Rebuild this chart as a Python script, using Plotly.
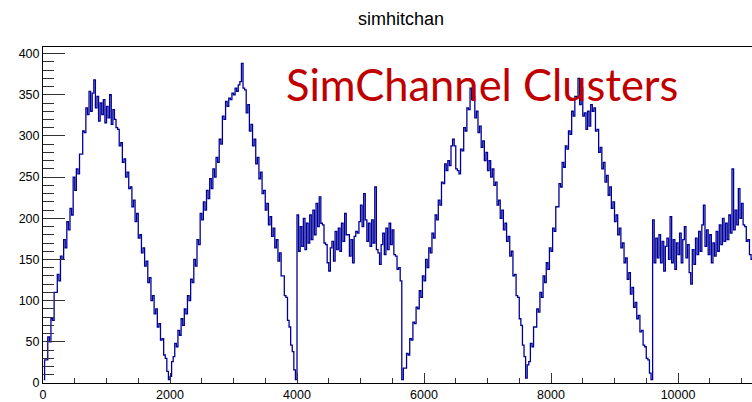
import numpy as np
import plotly.graph_objects as go

# Channel binning of the simhitchan histogram
bin_width = 25

# Counts per bin, grouped by detector region (each list starts on a bin edge)
ramp_a = [4, 28, 28, 56, 50, 78, 76, 110, 110, 132,
          124, 154, 150, 174, 164, 196, 186, 212, 204, 250,
          234, 260, 254, 278, 278, 306, 304, 334, 326, 354,
          330, 352, 368, 334, 348, 318, 340, 326, 344, 316,
          336, 322, 350, 314, 332, 320, 310, 308, 288, 292,
          268, 272, 250, 256, 236, 238, 214, 222, 196, 206,
          176, 180, 158, 164, 142, 148, 122, 128, 100, 106,
          84, 90, 68, 72, 52, 54, 34, 30, 14, 4]
ramp_b = [8, 26, 32, 48, 44, 64, 58, 78, 70, 90,
          84, 106, 100, 126, 122, 150, 142, 174, 168, 206,
          198, 220, 210, 234, 224, 248, 236, 260, 250, 274,
          268, 296, 290, 324, 320, 342, 336, 346, 344, 352,
          350, 358, 354, 362, 366, 388, 358, 356, 328, 338,
          306, 314, 288, 296, 266, 274, 248, 256, 230, 234,
          210, 218, 192, 202, 178, 188, 164, 174, 148, 158,
          130, 130, 106, 104, 76, 68, 46, 38, 16, 4]
flat_c = [204, 160, 190, 166, 200, 162, 194, 170, 204, 174,
          210, 180, 218, 190, 226, 194, 192, 170, 168, 146,
          136, 164, 172, 148, 184, 162, 188, 160, 194, 172,
          206, 180, 180, 154, 174, 146, 178, 184, 182, 196,
          216, 190, 230, 198, 172, 194, 166, 198, 170, 238,
          162, 158, 144, 168, 182, 156, 188, 162, 194, 168,
          186, 156, 154, 138, 140, 124]
ramp_d = [4, 18, 18, 36, 34, 54, 52, 74, 72, 92,
          90, 112, 104, 130, 124, 150, 140, 164, 158, 182,
          176, 204, 198, 222, 216, 244, 242, 266, 258, 270,
          264, 288, 296, 288, 260, 258, 254, 284, 282, 310,
          306, 334, 332, 358, 344, 348, 322, 330, 304, 312,
          286, 294, 270, 280, 258, 270, 250, 260, 240, 244,
          216, 222, 200, 210, 186, 194, 172, 178, 154, 160,
          130, 132, 106, 104, 78, 70, 46, 32]
ramp_e = [6, 22, 26, 48, 44, 68, 68, 90, 86, 110,
          104, 130, 122, 146, 138, 164, 160, 188, 184, 214,
          214, 242, 238, 268, 262, 288, 284, 306, 302, 330,
          324, 348, 346, 370, 338, 358, 324, 328, 308, 330,
          312, 338, 330, 334, 306, 308, 280, 286, 260, 268,
          244, 252, 228, 238, 212, 220, 196, 204, 180, 188,
          164, 170, 146, 152, 126, 134, 108, 116, 92, 98,
          78, 82, 62, 64, 46, 44, 30, 28, 12, 4]
flat_f = [198, 146, 176, 152, 180, 146, 172, 136, 166, 176,
          150, 202, 146, 174, 138, 170, 156, 182, 146, 174,
          190, 152, 168, 134, 120, 162, 144, 176, 156, 184,
          160, 192, 216, 166, 186, 156, 180, 146, 170, 154,
          184, 160, 192, 168, 200, 172, 194, 174, 204, 182,
          260, 186, 210, 192, 236, 200, 218, 192, 190, 172,
          174, 156, 150, 156]

region_bins = {"ramp_a": (ramp_a, 80), "ramp_b": (ramp_b, 80), "flat_c": (flat_c, 66),
               "ramp_d": (ramp_d, 78), "ramp_e": (ramp_e, 80), "flat_f": (flat_f, 64)}
for name, (vals, n) in region_bins.items():
    assert len(vals) == n, (name, len(vals))

counts = ramp_a + ramp_b + flat_c + ramp_d + ramp_e + flat_f
channels = bin_width * (np.arange(len(counts)) + 0.5)

x_ticks = [0, 2000, 4000, 6000, 8000, 10000]
y_ticks = [0, 50, 100, 150, 200, 250, 300, 350, 400]

hist_color = "#000099"
axis_font = dict(family="Liberation Sans, Arial, Helvetica, sans-serif", size=12.5, color="#000000")

fig = go.Figure()
fig.add_trace(go.Scatter(
    x=channels, y=counts, mode="lines",
    line=dict(color=hist_color, width=1.3, shape="hvh"),
    hoverinfo="skip", showlegend=False,
))

fig.update_layout(
    width=752, height=402,
    margin=dict(l=43, r=0, t=47, b=15, pad=0),
    paper_bgcolor="white", plot_bgcolor="white",
    title=dict(text="simhitchan", x=401 / 752, xref="container", xanchor="center",
               y=1 - 19 / 402, yref="container", yanchor="middle",
               font=dict(family="Liberation Sans, Arial, Helvetica, sans-serif", size=18, color="#000000")),
    annotations=[dict(
        text="SimChannel Clusters", xref="paper", yref="paper",
        x=(284 - 43) / 709, y=(387 - 100) / 340, xanchor="left", yanchor="bottom",
        yshift=-13, showarrow=False,
        font=dict(family="Lato, Open Sans, sans-serif", size=43.5, color="#C00000"),
    )],
)

fig.update_xaxes(
    range=[0, 11165], tickvals=x_ticks, ticktext=[str(v) for v in x_ticks],
    ticks="inside", ticklen=10, tickwidth=1, tickcolor="#333333",
    minor=dict(dtick=500, ticks="inside", ticklen=5, tickcolor="#333333", showgrid=False),
    showline=True, linecolor="#000000", linewidth=1, mirror=True,
    showgrid=False, zeroline=False, tickfont=axis_font,
)
fig.update_yaxes(
    range=[0, 408], tickvals=y_ticks, ticktext=[str(v) for v in y_ticks],
    ticks="inside", ticklen=22, tickwidth=1, tickcolor="#333333",
    minor=dict(dtick=10, ticks="inside", ticklen=11, tickcolor="#333333", showgrid=False),
    showline=True, linecolor="#000000", linewidth=1,
    showgrid=False, zeroline=False, tickfont=axis_font,
)

fig.write_html("out.html")
